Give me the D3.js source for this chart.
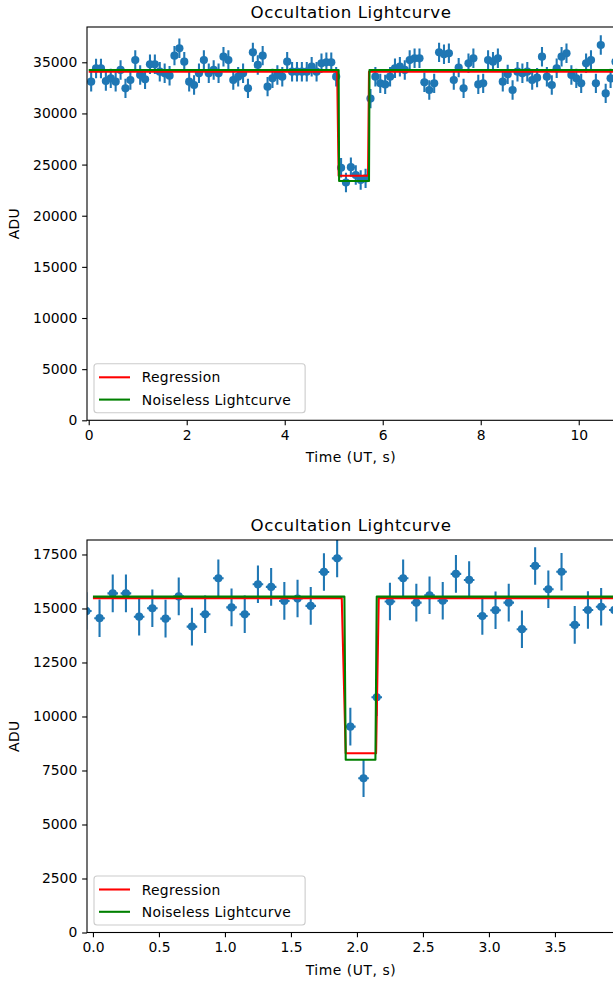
<!DOCTYPE html>
<html><head><meta charset="utf-8">
<script src="https://cdn.jsdelivr.net/npm/d3@7"></script>
<style>
html,body{margin:0;padding:0;background:#fff;}
svg text{font-family:"DejaVu Sans",sans-serif;fill:#000;}
</style></head>
<body><svg id="chart" width="613" height="983"></svg>
<script>
// ---------- data: top panel ----------
const topTime = [0.05,0.15,0.25,0.35,0.45,0.55,0.65,0.75,0.85,0.95,1.05,1.15,1.25,1.35,1.45,1.55,1.65,1.75,1.85,1.95,
2.05,2.15,2.25,2.35,2.45,2.55,2.65,2.75,2.85,2.95,3.05,3.15,3.25,3.35,3.45,3.55,3.65,3.75,3.85,3.95,
4.05,4.15,4.25,4.35,4.45,4.55,4.65,4.75,4.85,4.95,5.05,5.15,5.25,5.35,5.45,5.55,5.65,5.75,5.85,5.95,
6.05,6.15,6.25,6.35,6.45,6.55,6.65,6.75,6.85,6.95,7.05,7.15,7.25,7.35,7.45,7.55,7.65,7.75,7.85,7.95,
8.05,8.15,8.25,8.35,8.45,8.55,8.65,8.75,8.85,8.95,9.05,9.15,9.25,9.35,9.45,9.55,9.65,9.75,9.85,9.95,
10.05,10.15,10.25,10.35,10.45,10.55,10.65,10.75];
const topFlux = [33100,34400,34400,33170,33430,33100,34250,32450,33270,35220,33760,33330,34800,34800,34080,33920,33690,35650,36370,35060,
33100,32780,33920,35220,33920,34250,33920,35550,35220,33270,33590,33920,32450,35970,34740,35650,32620,33430,33760,33590,
35060,34080,34080,34080,34080,34570,34080,34900,35000,35000,33590,24690,23250,24750,23980,23490,23650,31450,33590,32940,
32840,33590,34410,34570,34250,35220,35390,35390,33040,32290,32940,35970,35780,35880,33270,34480,32450,34900,35390,32840,
32940,35220,35060,35390,33100,33820,32290,34080,33920,34080,33270,33500,35550,33590,32780,34410,35550,35880,33760,33430,
32940,34900,35220,32940,36690,31960,33430,35060];
const topErr = 950;
const topRegT = [0.0,5.07,5.10,5.70,5.72,10.8];
const topRegY = [34080,34080,23900,23900,34080,34080];
const topTrueT = [0.0,5.10,5.11,5.72,5.73,10.8];
const topTrueY = [34250,34250,23400,23400,34250,34250];
const topXTicks = [0,2,4,6,8,10];
const topYTicks = [0,5000,10000,15000,20000,25000,30000,35000];

// ---------- data: bottom panel ----------
const botTime = [-0.05,0.05,0.15,0.25,0.35,0.45,0.55,0.65,0.75,0.85,0.95,1.05,1.15,1.25,1.35,1.45,1.55,1.65,1.75,1.85,
1.95,2.05,2.15,2.25,2.35,2.45,2.55,2.65,2.75,2.85,2.95,3.05,3.15,3.25,3.35,3.45,3.55,3.65,3.75,3.85,3.95];
const botFlux = [14880,14550,15700,15700,14620,15010,14530,15560,14160,14730,16400,15050,14730,16120,16000,15350,15460,15120,16690,17320,
9530,7140,10890,15320,16400,15270,15610,15360,16600,16320,14650,14920,15270,14040,16970,15890,16700,14240,14930,15080,14930];
const botErr = 870;
const xErr = 0.04;
const botRegT = [0.0,1.885,1.915,2.145,2.165,4.0];
const botRegY = [15480,15480,8300,8300,15480,15480];
const botTrueT = [0.0,1.905,1.915,2.14,2.15,4.0];
const botTrueY = [15550,15550,8000,8000,15550,15550];
const botXTicks = [0.0,0.5,1.0,1.5,2.0,2.5,3.0,3.5];
const botYTicks = [0,2500,5000,7500,10000,12500,15000,17500];

const titleText = "Occultation Lightcurve";
const xLabel = "Time (UT, s)";
const yLabel = "ADU";
const legendLabels = ["Regression","Noiseless Lightcurve"];
const legendColors = ["#ff0000","#008000"];
const pointColor = "#1f77b4";

const svg = d3.select("#chart");
const FS = 13.9;
const LS = "0.3px";

function panel(cfg){
  const {id,left,right,top,bottom,xDom,yDom,t,f,err,regT,regY,trueT,trueY,xTicks,yTicks,xFmt} = cfg;
  const x = d3.scaleLinear().domain(xDom).range([left,right]);
  const y = d3.scaleLinear().domain(yDom).range([bottom,top]);
  const g = svg.append("g");
  g.append("clipPath").attr("id",id).append("rect")
    .attr("x",left).attr("y",top).attr("width",right-left).attr("height",bottom-top);
  const plot = g.append("g").attr("clip-path",`url(#${id})`);
  const line = d3.line().x(d=>x(d[0])).y(d=>y(d[1]));
  const pts = t.map((tt,i)=>({t:tt,v:f[i]}));
  plot.append("g").selectAll("line.v").data(pts).join("line")
    .attr("x1",d=>x(d.t)).attr("x2",d=>x(d.t))
    .attr("y1",d=>y(d.v-err)).attr("y2",d=>y(d.v+err))
    .attr("stroke",pointColor).attr("stroke-width",2.08);
  plot.append("g").selectAll("line.h").data(pts).join("line")
    .attr("x1",d=>x(d.t-xErr)).attr("x2",d=>x(d.t+xErr))
    .attr("y1",d=>y(d.v)).attr("y2",d=>y(d.v))
    .attr("stroke",pointColor).attr("stroke-width",2.08);
  plot.append("g").selectAll("circle").data(pts).join("circle")
    .attr("cx",d=>x(d.t)).attr("cy",d=>y(d.v)).attr("r",4.1)
    .attr("fill",pointColor);
  plot.append("path").datum(regT.map((a,i)=>[a,regY[i]])).attr("d",line)
    .attr("fill","none").attr("stroke",legendColors[0]).attr("stroke-width",2.08).attr("stroke-linejoin","round");
  plot.append("path").datum(trueT.map((a,i)=>[a,trueY[i]])).attr("d",line)
    .attr("fill","none").attr("stroke",legendColors[1]).attr("stroke-width",2.08).attr("stroke-linejoin","round");

  const xa = g.append("g").attr("transform",`translate(0,${bottom})`)
    .call(d3.axisBottom(x).tickValues(xTicks).tickFormat(xFmt).tickSizeOuter(0).tickSize(4.86).tickPadding(4.86));
  const ya = g.append("g").attr("transform",`translate(${left},0)`)
    .call(d3.axisLeft(y).tickValues(yTicks).tickFormat(d3.format("d")).tickSizeOuter(0).tickSize(4.86).tickPadding(4.86));
  [xa,ya].forEach(a=>{
    a.select(".domain").remove();
    a.selectAll(".tick line").attr("stroke","#000").attr("stroke-width",1.1);
    a.selectAll(".tick text").attr("font-size",FS).attr("font-family","DejaVu Sans").attr("fill","#000");
  });
  g.append("rect").attr("x",left).attr("y",top).attr("width",right-left).attr("height",bottom-top)
    .attr("fill","none").attr("stroke","#000").attr("stroke-width",1.1);

  g.append("text").attr("x",(left+right)/2).attr("y",top-8.8).attr("text-anchor","middle")
    .attr("font-size",16.67).attr("letter-spacing","0.55px").text(titleText);
  g.append("text").attr("x",(left+right)/2).attr("y",bottom+42).attr("text-anchor","middle")
    .attr("font-size",FS).attr("letter-spacing","0.55px").text(xLabel);
  g.append("text").attr("transform",`translate(19,${(top+bottom)/2}) rotate(-90)`).attr("text-anchor","middle")
    .attr("font-size",FS).attr("letter-spacing",LS).text(yLabel);

  const lg = g.append("g");
  const lx = left+7, lyB = bottom-7.5;
  const rowH = 22.3, boxH = 49;
  const tmp = lg.append("text").attr("font-size",FS).attr("letter-spacing",LS).text(legendLabels[1]);
  const tw = tmp.node().getComputedTextLength(); tmp.remove();
  const boxW = 54.7 + tw + 7;
  lg.append("rect").attr("x",lx).attr("y",lyB-boxH).attr("width",boxW).attr("height",boxH)
    .attr("rx",3).attr("fill","#fff").attr("fill-opacity",0.8).attr("stroke","#cccccc").attr("stroke-width",1.1);
  legendLabels.forEach((lab,i)=>{
    const cy = lyB-boxH+13.5+i*rowH;
    lg.append("line").attr("x1",lx+5).attr("x2",lx+36).attr("y1",cy).attr("y2",cy)
      .attr("stroke",legendColors[i]).attr("stroke-width",2.08);
    lg.append("text").attr("x",lx+47.7).attr("y",cy+5).attr("font-size",FS).attr("letter-spacing",LS).text(lab);
  });
}

panel({id:"c1",left:87,right:615,top:27,bottom:420.3,xDom:[-0.035,10.74],yDom:[0,38450],
  t:topTime,f:topFlux,err:topErr,regT:topRegT,regY:topRegY,trueT:topTrueT,trueY:topTrueY,
  xTicks:topXTicks,yTicks:topYTicks,xFmt:d3.format("d")});
panel({id:"c2",left:87,right:615,top:540,bottom:932.5,xDom:[-0.045,3.955],yDom:[0,18170],
  t:botTime,f:botFlux,err:botErr,regT:botRegT,regY:botRegY,trueT:botTrueT,trueY:botTrueY,
  xTicks:botXTicks,yTicks:botYTicks,xFmt:d3.format(".1f")});
</script></body></html>
